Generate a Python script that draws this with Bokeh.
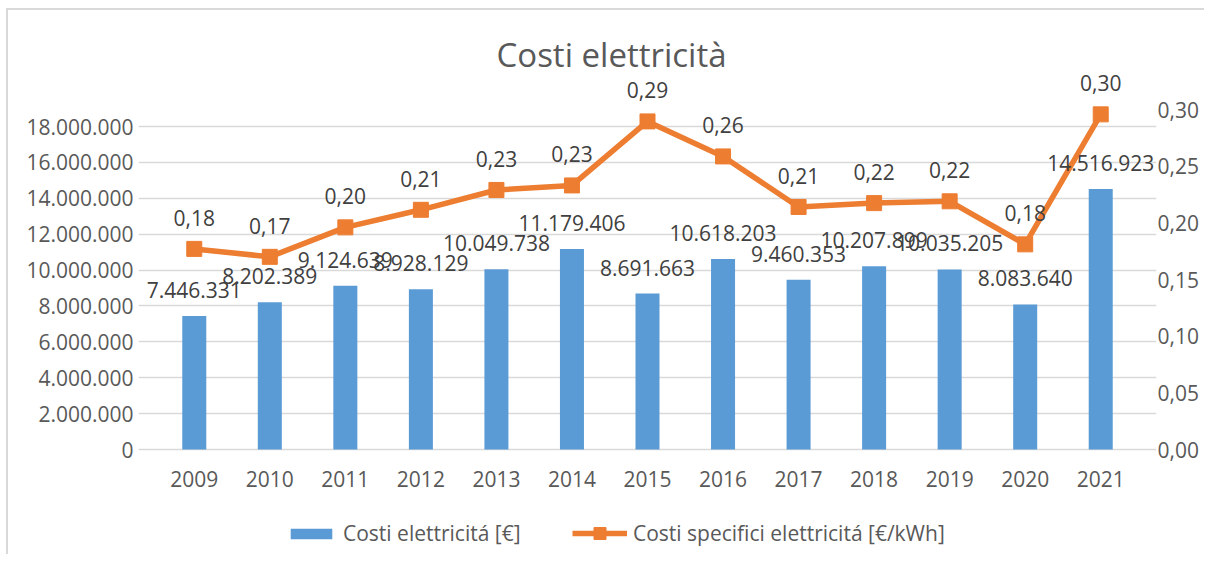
from bokeh.plotting import figure
from bokeh.models import (ColumnDataSource, Range1d, FactorRange, LinearAxis, FixedTicker,
                          CustomJSTickFormatter, LabelSet, Label, Legend, LegendItem)
from bokeh.core.properties import value
from bokeh.embed import file_html
from bokeh.resources import INLINE

years = ["2009", "2010", "2011", "2012", "2013", "2014", "2015",
         "2016", "2017", "2018", "2019", "2020", "2021"]
costs = [7446331, 8202389, 9124639, 8928129, 10049738, 11179406, 8691663,
         10618203, 9460353, 10207899, 10035205, 8083640, 14516923]
specific = [0.177, 0.170, 0.196, 0.2115, 0.229, 0.233, 0.2895,
            0.2586, 0.214, 0.2174, 0.219, 0.181, 0.2957]
left_ticks = [0, 2000000, 4000000, 6000000, 8000000, 10000000,
              12000000, 14000000, 16000000, 18000000]
right_ticks = [0.0, 0.05, 0.10, 0.15, 0.20, 0.25, 0.30]

title_text = "Costi elettricità"
bar_name = "Costi elettricitá [€]"
line_name = "Costi specifici elettricitá [€/kWh]"

FONT = "Open Sans"
FS = "21px"
TXT = "#595959"
LBL = "#404040"
BLUE = "#5B9BD5"
ORANGE = "#ED7D31"
GRID = "#D9D9D9"

# ---- layout geometry (page pixels) ----
OX, OY = 8, 10                 # where the figure content starts on the page
W, H = 1198, 546
CAT_L, CAT_R = 156, 1138       # extent of the 13 category slots
FRAME_L, FRAME_R = 138, 1156
FRAME_T, FRAME_B = 15, 552
ZERO_Y = 449
LEFT_TOP_Y = 126               # 18.000.000
RIGHT_TOP_Y = 109              # 0,30

slot = (CAT_R - CAT_L) / len(years)
pad_side = (CAT_L - FRAME_L) / slot   # padding applied on each side

lpx = (ZERO_Y - LEFT_TOP_Y) / 18000000.0
rpx = (ZERO_Y - RIGHT_TOP_Y) / 0.30
left_range = Range1d(-(FRAME_B - ZERO_Y) / lpx, (ZERO_Y - FRAME_T) / lpx)
right_range = Range1d(-(FRAME_B - ZERO_Y) / rpx, (ZERO_Y - FRAME_T) / rpx)

src = ColumnDataSource(data=dict(
    x=years, cost=costs, spec=specific, zero=[0] * len(years),
    cost_lbl=[f"{v:,}".replace(",", ".") for v in costs],
    spec_lbl=[f"{v:.2f}".replace(".", ",") for v in specific],
))

p = figure(width=W, height=H,
           x_range=FactorRange(factors=years, range_padding=pad_side,
                               range_padding_units="absolute"),
           y_range=left_range,
           output_backend="svg", toolbar_location=None,
           min_border_left=FRAME_L - OX, min_border_right=W - (FRAME_R - OX),
           min_border_top=FRAME_T - OY, min_border_bottom=H - (FRAME_B - OY))
p.styles = {"margin-left": "6px", "margin-top": "8px",
            "border-left": "2px solid #D9D9D9", "border-top": "2px solid #D9D9D9"}
p.outline_line_color = None
p.background_fill_color = "white"
p.border_fill_color = "white"
p.xaxis.visible = False

p.extra_y_ranges = {"right": right_range}

bars = p.vbar(x="x", top="cost", width=0.318, source=src, fill_color=BLUE,
              line_color=None)
line = p.line(x="x", y="spec", source=src, y_range_name="right",
              line_color=ORANGE, line_width=5.5, line_join="round")
marks = p.scatter(x="x", y="spec", source=src, y_range_name="right",
                  marker="square", size=15, fill_color=ORANGE, line_color=ORANGE)

ya = p.yaxis[0]
ya.ticker = FixedTicker(ticks=left_ticks)
ya.formatter = CustomJSTickFormatter(code="""
    return Math.round(tick).toString().replace(/\\B(?=(\\d{3})+(?!\\d))/g, '.');
""")

ra = LinearAxis(y_range_name="right",
                ticker=FixedTicker(ticks=right_ticks),
                formatter=CustomJSTickFormatter(code="return tick.toFixed(2).replace('.', ',');"))
p.add_layout(ra, "right")

for ax in [ya, ra]:
    ax.axis_line_color = None
    ax.major_tick_line_color = None
    ax.minor_tick_line_color = None
    ax.major_tick_out = 0
    ax.major_tick_in = 0
    ax.minor_tick_out = 0
    ax.major_label_text_font = FONT
    ax.major_label_text_font_size = FS
    ax.major_label_text_color = TXT
ya.major_label_standoff = 5
ra.major_label_standoff = 1

p.xgrid.grid_line_color = None
p.ygrid.grid_line_color = GRID
p.ygrid.grid_line_width = 1.5

year_labels = LabelSet(x="x", y="zero", text="x", source=src,
                       text_align="center", text_baseline="middle", y_offset=-29,
                       text_font=value(FONT), text_font_size=value(FS),
                       text_color=TXT)
bar_labels = LabelSet(x="x", y="cost", text="cost_lbl", source=src,
                      text_align="center", text_baseline="middle", y_offset=26,
                      text_font=value(FONT), text_font_size=value(FS),
                      text_color=LBL)
line_labels = LabelSet(x="x", y="spec", text="spec_lbl", source=src,
                       y_range_name="right",
                       text_align="center", text_baseline="middle", y_offset=31,
                       text_font=value(FONT), text_font_size=value(FS),
                       text_color=LBL)
p.add_layout(year_labels)
p.add_layout(bar_labels)
p.add_layout(line_labels)

title = Label(x=611 - FRAME_L, y=FRAME_B - 54, x_units="screen", y_units="screen",
              text=title_text, text_align="center", text_baseline="middle",
              text_font=FONT, text_font_size="33px", text_color=TXT)
p.add_layout(title)

legend_common = dict(orientation="horizontal", label_standoff=6, spacing=0,
                     padding=0, margin=0, border_line_color=None,
                     background_fill_alpha=0, label_text_font=FONT,
                     label_text_font_size=FS, label_text_color=TXT)
legend_bar = Legend(items=[LegendItem(label=bar_name, renderers=[bars])],
                    location=(285 - FRAME_L, 5), glyph_width=52, glyph_height=13,
                    **legend_common)
legend_line = Legend(items=[LegendItem(label=line_name, renderers=[line, marks])],
                     location=(572 - FRAME_L, 4), glyph_width=55, glyph_height=30,
                     **legend_common)
p.add_layout(legend_bar, "center")
p.add_layout(legend_line, "center")

open("out.html", "w").write(file_html(p, INLINE))
